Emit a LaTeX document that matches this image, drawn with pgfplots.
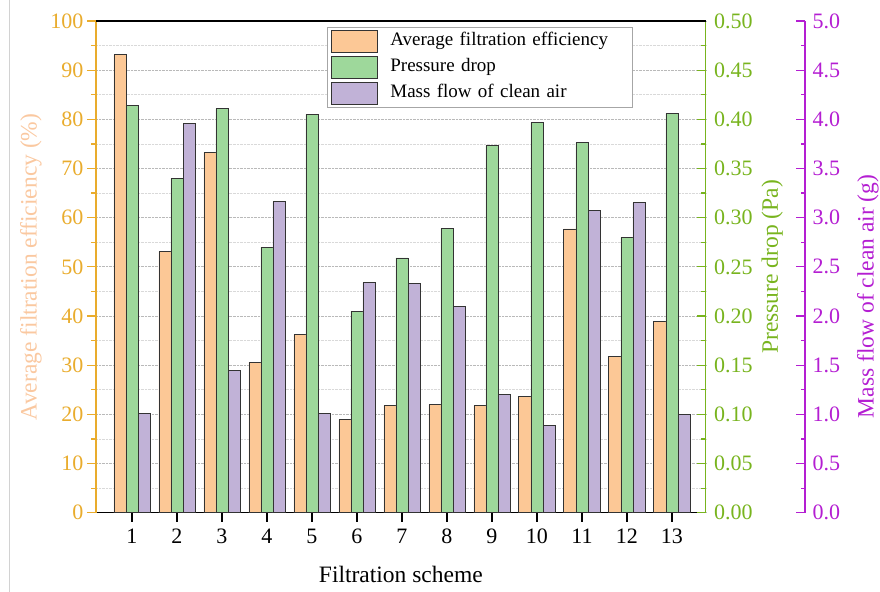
\documentclass[border=0pt]{standalone}
\usepackage{pgfplots}
\pgfplotsset{compat=1.18}
\usepackage{fontspec}
\setmainfont{Liberation Serif}
\definecolor{barO}{RGB}{252,200,150}
\definecolor{barG}{RGB}{158,216,155}
\definecolor{barP}{RGB}{193,178,215}
\definecolor{axO}{RGB}{233,172,45}
\definecolor{labO}{RGB}{250,200,160}
\definecolor{axG}{RGB}{120,180,30}
\definecolor{axP}{RGB}{180,30,210}
\pgfplotsset{
  boxlegend/.style={legend image code/.code={\draw[##1] (0bp,-11bp) rectangle (46bp,11bp);}},
  common/.style={
    at={(96bp,79.3bp)}, anchor=south west, scale only axis,
    width=609.7bp, height=491.7bp,
    xmin=0.2, xmax=13.75,
    /pgf/number format/assume math mode=true,
    major tick length=9bp, minor tick length=4.5bp,
    ticklabel style={font=\fontsize{22bp}{26bp}\selectfont},
    label style={font=\fontsize{23.5bp}{28bp}\selectfont},
  },
  barstyle/.style={ybar, bar width=0.267, draw=black!80, line width=0.9bp},
}
\begin{document}
\begin{tikzpicture}
\useasboundingbox (0,0) rectangle (880bp,592bp);
\draw[gray!35, line width=1bp] (9bp,0) -- (9bp,592bp);
% main axis: orange
\begin{axis}[common,
  ymin=0, ymax=100,
  axis x line*=bottom, axis y line*=left,
  xtick={1,...,13},
  ytick={0,10,...,100}, minor y tick num=1,
  tick align=outside,
  x axis line style={black, line width=1.3bp, -},
  y axis line style={axO, line width=1.4bp, -},
  x tick style={black, line width=1.2bp},
  y tick style={axO, line width=1.2bp},
  yticklabel style={axO},
  xticklabel style={yshift=-4bp},
  ymajorgrids, yminorgrids,
  major grid style={densely dotted, gray!55, line width=0.8bp},
  minor grid style={densely dotted, gray!30, line width=0.8bp},
  xlabel={Filtration scheme},
  xlabel style={at={(axis description cs:0.5,-0.125)}, anchor=center},
  ylabel={Average filtration efficiency (\%)},
  ylabel style={at={(axis description cs:-0.107,0.5)}, anchor=center, labO},
  legend style={at={(axis description cs:0.379,0.988)}, anchor=north west,
    draw=gray!70, line width=0.8bp, fill=white,
    font=\fontsize{19bp}{22bp}\selectfont,
    inner xsep=4bp, inner ysep=1bp, row sep=0pt,
    /tikz/every odd column/.style={column sep=12bp},
    nodes={inner xsep=0bp, inner ysep=4.5bp, text height=13bp, text depth=4bp, anchor=west, text width=238bp}},
  legend cell align=left,
]
\addplot[barstyle, bar shift=-0.267, fill=barO, forget plot] coordinates {
(1,93.1) (2,53.1) (3,73.3) (4,30.6) (5,36.2) (6,18.9) (7,21.8)
(8,22.0) (9,21.8) (10,23.6) (11,57.7) (12,31.7) (13,38.8)};
\addlegendimage{boxlegend, fill=barO, draw=black!80, line width=0.9bp}
\addlegendentry{Average filtration efficiency}
\addlegendimage{boxlegend, fill=barG, draw=black!80, line width=0.9bp}
\addlegendentry{Pressure drop}
\addlegendimage{boxlegend, fill=barP, draw=black!80, line width=0.9bp}
\addlegendentry{Mass flow of clean air}
\end{axis}
% green axis
\begin{axis}[common,
  ymin=0, ymax=0.5,
  axis y line*=right, axis x line=none,
  ytick={0,0.05,0.10,0.15,0.20,0.25,0.30,0.35,0.40,0.45,0.50},
  minor y tick num=1,
  tick align=inside,
  y axis line style={axG, line width=1.4bp, -},
  y tick style={axG, line width=1.2bp},
  yticklabel style={axG, xshift=5bp, /pgf/number format/fixed, /pgf/number format/fixed zerofill, /pgf/number format/precision=2},
  ylabel={Pressure drop (Pa)},
  ylabel style={at={(axis description cs:1.109,0.5)}, anchor=center, rotate=0, axG},
]
\addplot[barstyle, bar shift=0, fill=barG] coordinates {
(1,0.414) (2,0.340) (3,0.411) (4,0.270) (5,0.405) (6,0.205) (7,0.259)
(8,0.289) (9,0.373) (10,0.397) (11,0.376) (12,0.280) (13,0.406)};
\end{axis}
% purple bars + top frame line
\begin{axis}[common, ymin=0, ymax=5,
  axis x line*=top, axis y line=none, xtick=\empty,
  x axis line style={black, line width=1.3bp, -}]
\addplot[barstyle, bar shift=0.267, fill=barP] coordinates {
(1,1.01) (2,3.96) (3,1.45) (4,3.16) (5,1.01) (6,2.34) (7,2.33)
(8,2.10) (9,1.20) (10,0.89) (11,3.07) (12,3.15) (13,1.00)};
\end{axis}
% purple y axis
\begin{axis}[common, at={(195.3bp,79.3bp)},
  ymin=0, ymax=5,
  axis y line*=right, axis x line=none,
  ytick={0,0.5,1,1.5,2,2.5,3,3.5,4,4.5,5},
  minor y tick num=1,
  tick align=inside,
  y axis line style={axP, line width=1.4bp, -},
  y tick style={axP, line width=1.2bp},
  yticklabel style={axP, xshift=4bp, /pgf/number format/fixed, /pgf/number format/fixed zerofill, /pgf/number format/precision=1},
  ylabel={Mass flow of clean air (g)},
  ylabel style={at={(axis description cs:1.103,0.44)}, anchor=center, rotate=0, axP},
]
\end{axis}
\end{tikzpicture}
\end{document}
